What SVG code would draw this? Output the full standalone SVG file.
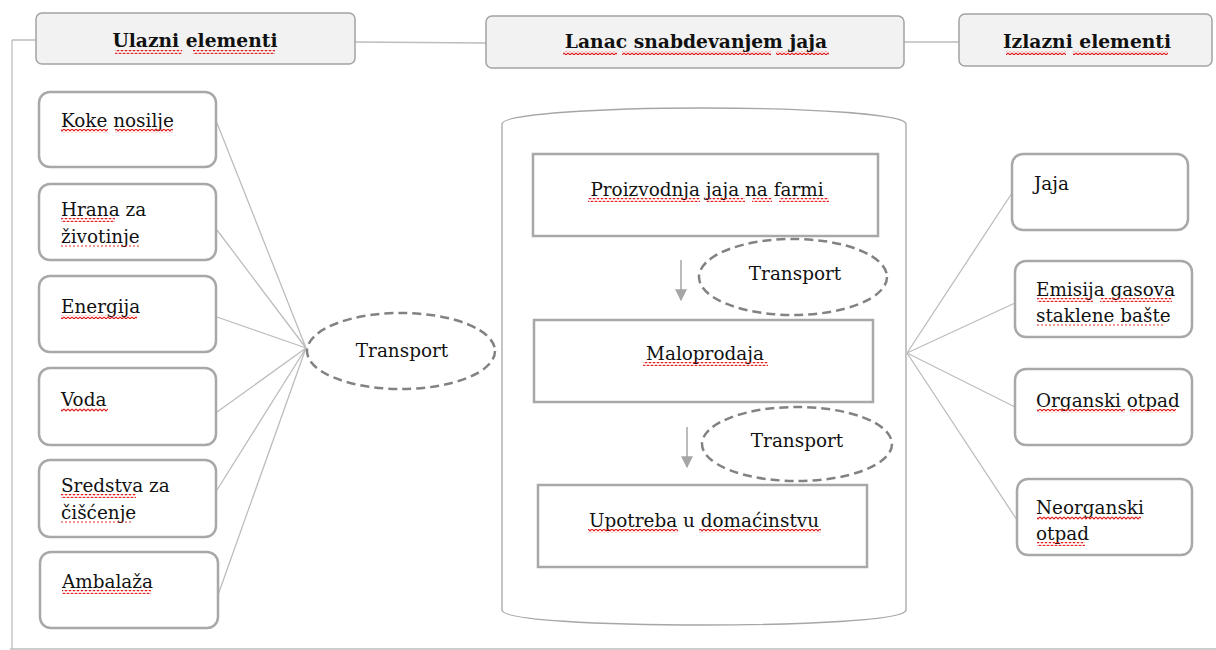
<svg xmlns="http://www.w3.org/2000/svg" width="1216" height="650" viewBox="0 0 1216 650">
<style>
text{font-family:"DejaVu Serif",serif;font-size:18.4px;fill:#111}
.ht{font-weight:bold;font-size:18.7px;text-anchor:middle}
.c{text-anchor:middle}
.hdr{fill:#f2f2f2;stroke:#a3a3a3;stroke-width:1.5}
.box{fill:#fff;stroke:#a8a8a8;stroke-width:2.5}
.sq{fill:#fff;stroke:#a8a8a8;stroke-width:2.5}
.ell{fill:#fff;stroke:#828282;stroke-width:2.5;stroke-dasharray:9 5}
.conn{fill:none;stroke:#bdbdbd;stroke-width:1.3}
.arr{fill:none;stroke:#a6a6a6;stroke-width:1.5}
.sp{fill:url(#wave)}
.dot{stroke:#e03030;stroke-width:1.1;stroke-dasharray:2 2}
</style>
<defs>
<pattern id="wave" patternUnits="userSpaceOnUse" width="4" height="4">
<path d="M0,1 L2,3 L4,1" fill="none" stroke="#e02020" stroke-width="1.1"/>
</pattern>
<marker id="ah" viewBox="0 0 10 10" refX="9" refY="5" markerWidth="12" markerHeight="12" markerUnits="userSpaceOnUse" orient="auto">
<path d="M0,0 L10,5 L0,10 z" fill="#a6a6a6"/>
</marker>
</defs>
<rect width="1216" height="650" fill="#fff"/>

<g id="cylinder">
<path d="M502,124 C502,114 600,108 704,108 C808,108 906,114 906,124 L906,610 C906,620 808,625 704,625 C600,625 502,620 502,610 Z" fill="#fff" stroke="#a6a6a6" stroke-width="1.3"/>
</g>

<g id="connectors">
<path class="conn" d="M12,40 L36,40 M12,40 L12,649"/>
<path class="conn" d="M10,649 L1216,649" stroke="#d8d8d8"/>
<path class="conn" d="M355,42 L486,43"/>
<path class="conn" d="M904,42 L959,42"/>
<path class="conn" d="M217,123 L306,348 M217,230 L306,348 M217,317 L306,348 M217,412 L306,348 M217,490 L306,348 M218,595 L306,348"/>
<path class="conn" d="M907,353 L1012,193 M907,353 L1015,303 M907,353 L1015,407 M907,353 L1017,520"/>
<path class="arr" d="M681,260 L681,300" marker-end="url(#ah)"/>
<path class="arr" d="M687,427 L687,467" marker-end="url(#ah)"/>
</g>

<g id="hdr-ulazni">
<rect class="hdr" x="36" y="13" width="319" height="51" rx="6"/>
<text class="ht" x="195" y="47">Ulazni elementi</text>
</g>
<g id="hdr-lanac">
<rect class="hdr" x="486" y="16" width="418" height="52" rx="6"/>
<text class="ht" x="696" y="48">Lanac snabdevanjem jaja</text>
</g>
<g id="hdr-izlazni">
<rect class="hdr" x="959" y="14" width="253" height="52" rx="6"/>
<text class="ht" x="1087" y="48">Izlazni elementi</text>
</g>

<g id="in-koke"><rect class="box" x="39" y="92" width="177" height="75" rx="11"/><text x="61" y="127">Koke nosilje</text></g>
<g id="in-hrana"><rect class="box" x="39" y="184" width="177" height="76" rx="11"/><text x="61" y="216">Hrana za</text><text x="61" y="243">životinje</text></g>
<g id="in-energija"><rect class="box" x="39" y="276" width="177" height="76" rx="11"/><text x="61" y="313">Energija</text></g>
<g id="in-voda"><rect class="box" x="39" y="368" width="177" height="77" rx="11"/><text x="61" y="406">Voda</text></g>
<g id="in-sredstva"><rect class="box" x="39" y="460" width="177" height="77" rx="11"/><text x="61" y="492">Sredstva za</text><text x="61" y="519">čišćenje</text></g>
<g id="in-ambalaza"><rect class="box" x="40" y="552" width="178" height="76" rx="11"/><text x="62" y="588">Ambalaža</text></g>

<g id="transport-in"><ellipse class="ell" cx="401" cy="351" rx="94" ry="38"/><text class="c" x="402" y="357">Transport</text></g>

<g id="proizvodnja"><rect class="sq" x="533" y="154" width="345" height="82"/><text class="c" x="707" y="196">Proizvodnja jaja na farmi</text></g>
<g id="transport-1"><ellipse class="ell" cx="793" cy="277" rx="94" ry="38"/><text class="c" x="795" y="280">Transport</text></g>
<g id="maloprodaja"><rect class="sq" x="534" y="320" width="339" height="82"/><text class="c" x="705" y="360">Maloprodaja</text></g>
<g id="transport-2"><ellipse class="ell" cx="797" cy="444" rx="95" ry="37"/><text class="c" x="797" y="447">Transport</text></g>
<g id="upotreba"><rect class="sq" x="538" y="485" width="329" height="82"/><text class="c" x="704" y="527">Upotreba u domaćinstvu</text></g>

<g id="out-jaja"><rect class="box" x="1012" y="154" width="176" height="76" rx="11"/><text x="1034" y="190">Jaja</text></g>
<g id="out-emisija"><rect class="box" x="1015" y="261" width="177" height="76" rx="11"/><text x="1036" y="296">Emisija gasova</text><text x="1036" y="322">staklene bašte</text></g>
<g id="out-organski"><rect class="box" x="1015" y="369" width="177" height="76" rx="11"/><text x="1036" y="407">Organski otpad</text></g>
<g id="out-neorganski"><rect class="box" x="1017" y="479" width="175" height="76" rx="11"/><text x="1036" y="514">Neorganski</text><text x="1036" y="540">otpad</text></g>

<g id="spellcheck">
<rect class="sp" x="115" y="50" width="67" height="4"/><rect class="sp" x="193" y="50" width="82" height="4"/>
<rect class="sp" x="563" y="51" width="54" height="4"/><rect class="sp" x="622" y="51" width="149" height="4"/><rect class="sp" x="776" y="51" width="53" height="4"/>
<rect class="sp" x="1006" y="51" width="60" height="4"/><rect class="sp" x="1073" y="51" width="95" height="4"/>
<rect class="sp" x="61" y="129" width="47" height="4"/><rect class="sp" x="115" y="129" width="58" height="4"/>
<rect class="sp" x="61" y="218" width="54" height="4"/>
<line class="dot" x1="61" y1="246" x2="140" y2="246"/>
<rect class="sp" x="61" y="315" width="76" height="4"/>
<rect class="sp" x="61" y="408" width="47" height="4"/>
<rect class="sp" x="61" y="494" width="75" height="4"/>
<line class="dot" x1="61" y1="522" x2="132" y2="522"/>
<rect class="sp" x="62" y="590" width="89" height="4"/>
<rect class="sp" x="588" y="198" width="112" height="4"/><rect class="sp" x="706" y="198" width="39" height="4"/><rect class="sp" x="752" y="198" width="20" height="4"/><rect class="sp" x="779" y="198" width="50" height="4"/>
<rect class="sp" x="643" y="362" width="125" height="4"/>
<rect class="sp" x="588" y="529" width="90" height="4"/><rect class="sp" x="699" y="529" width="122" height="4"/>
<rect class="sp" x="1037" y="298" width="56" height="4"/><rect class="sp" x="1100" y="298" width="72" height="4"/>
<line class="dot" x1="1037" y1="325" x2="1164" y2="325"/>
<rect class="sp" x="1037" y="409" width="88" height="4"/><rect class="sp" x="1130" y="409" width="46" height="4"/>
<rect class="sp" x="1037" y="516" width="104" height="4"/>
<rect class="sp" x="1037" y="542" width="48" height="4"/>
</g>
</svg>
